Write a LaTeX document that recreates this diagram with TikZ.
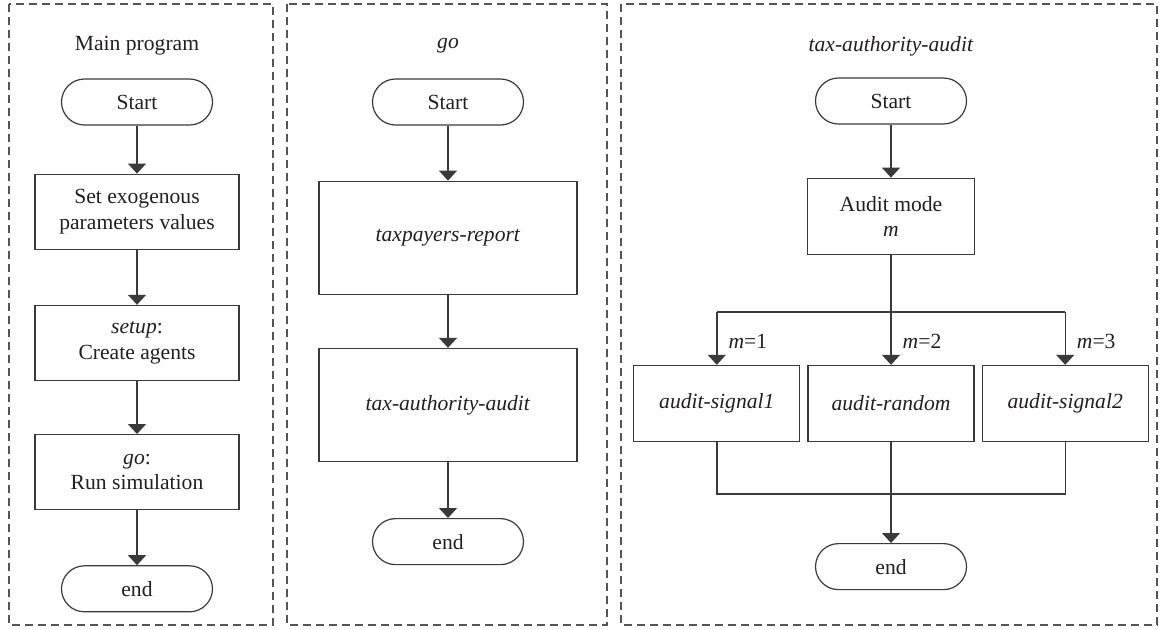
\documentclass[tikz,border=0pt]{standalone}
\usepackage{fontspec}
\setmainfont{Liberation Serif}
\usetikzlibrary{arrows.meta, positioning}
\definecolor{inkline}{HTML}{3A3A3A}
\definecolor{dashgray}{HTML}{555555}
\definecolor{inktext}{HTML}{231F20}
\tikzset{
  term/.style={draw=inkline, line width=0.6pt, rounded corners=11.5pt,
               minimum width=75.5pt, minimum height=23pt, text=inktext},
  proc/.style={draw=inkline, line width=0.6pt, align=center, text=inktext},
  link/.style={-{Triangle[width=9pt, length=5pt]}, line width=0.7pt, inkline},
  wire/.style={line width=0.7pt, inkline},
  panel/.style={draw=dashgray, line width=0.6pt, dash pattern=on 4pt off 2.5pt},
  title/.style={text=inktext},
  mlabel/.style={text=inktext, inner sep=2pt},
}

\begin{document}
\begin{tikzpicture}[x=0.5pt, y=-0.5pt, font=\fontsize{10.8}{12.7}\selectfont]
  \useasboundingbox (0,0) rectangle (1159,629);

  % ---- panels ----
  \draw[panel] (9,4) rectangle (273,625);
  \draw[panel] (287,4) rectangle (607,625);
  \draw[panel] (621,4) rectangle (1157,625);

  % ---- Main program ----
  \node[title] (ttl1) at (137,46) {Main program};
  \node[term] (start1) at (137,102) {Start};
  \node[proc, below=24pt of start1, minimum width=102pt, minimum height=37.5pt] (setpar)
    {Set exogenous\\parameters values};
  \node[proc, below=27.5pt of setpar, minimum width=102pt, minimum height=37.5pt] (setup)
    {\textit{setup}:\\Create agents};
  \node[proc, below=26.5pt of setup, minimum width=102pt, minimum height=37.5pt] (gosim)
    {\textit{go}:\\Run simulation};
  \node[term, below=27.5pt of gosim] (end1) {end};

  \draw[link] (start1) -- (setpar);
  \draw[link] (setpar) -- (setup);
  \draw[link] (setup) -- (gosim);
  \draw[link] (gosim) -- (end1);

  % ---- go ----
  \node[title] (ttl2) at (448,46) {\textit{go}};
  \node[term] (start2) at (448,102) {Start};
  \node[proc, below=27.5pt of start2, minimum width=129pt, minimum height=56.5pt] (report)
    {\textit{taxpayers-report}};
  \node[proc, below=26.5pt of report, minimum width=129pt, minimum height=56.5pt] (taxaud)
    {\textit{tax-authority-audit}};
  \node[term, below=28pt of taxaud] (end2) {end};

  \draw[link] (start2) -- (report);
  \draw[link] (report) -- (taxaud);
  \draw[link] (taxaud) -- (end2);

  % ---- tax-authority-audit ----
  \node[title] (ttl3) at (891,46) {\textit{tax-authority-audit}};
  \node[term] (start3) at (891,101) {Start};
  \node[proc, below=26.5pt of start3, minimum width=83.5pt, minimum height=38pt] (mode)
    {Audit mode\\\textit{m}};
  \node[proc, below=55pt of mode, minimum width=83pt, minimum height=38pt] (rand)
    {\textit{audit-random}};
  \node[proc, left=3.5pt of rand, minimum width=83pt, minimum height=38pt] (sig1)
    {\textit{audit-signal1}};
  \node[proc, right=3.5pt of rand, minimum width=83pt, minimum height=38pt] (sig2)
    {\textit{audit-signal2}};
  \node[term, below=50.5pt of rand] (end3) {end};

  \coordinate[below=28.5pt of mode.south] (split);
  \coordinate[below=26pt of rand.south] (join);

  \draw[link] (start3) -- (mode);
  \draw[wire] (mode) -- (split);
  \draw[wire] (split -| sig1) -- (split -| sig2);
  \draw[link] (split -| sig1) -- node[pos=0.55, right=3.5pt, mlabel] {\textit{m}=1} (sig1);
  \draw[link] (split) -- node[pos=0.55, right=3.5pt, mlabel] {\textit{m}=2} (rand);
  \draw[link] (split -| sig2) -- node[pos=0.55, right=3.5pt, mlabel] {\textit{m}=3} (sig2);
  \draw[wire] (sig1.south) |- (join) -| (sig2.south);
  \draw[link] (rand) -- (end3);
\end{tikzpicture}
\end{document}
